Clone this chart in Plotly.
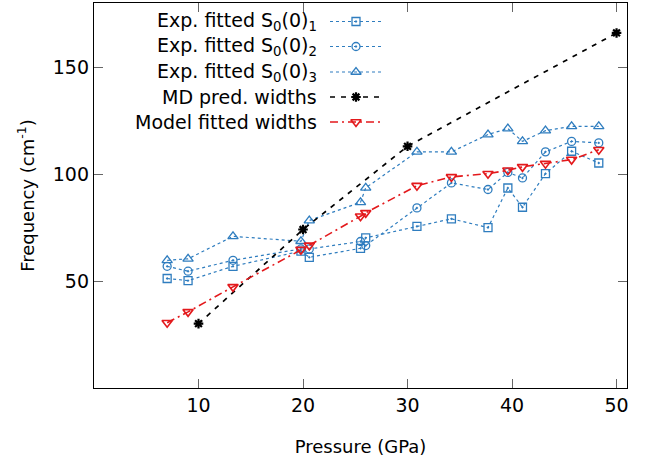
import plotly.graph_objects as go

# ---- data ----
p_exp = [7.0, 9.0, 13.3, 19.8, 20.6, 25.5, 26.0, 30.9, 34.2, 37.7, 39.6, 41.0, 43.2, 45.7, 48.3]
s1 = [51.2, 50.2, 56.9, 64.0, 61.1, 65.3, 70.2, 75.6, 79.1, 75.0, 93.5, 84.5, 100.2, 110.7, 105.2]
s2 = [56.9, 54.6, 59.7, 65.0, 65.0, 68.5, 66.6, 84.2, 95.9, 92.8, 100.8, 98.2, 110.4, 115.3, 114.6]
s3 = [59.7, 60.4, 70.9, 68.6, 78.3, 86.8, 93.6, 110.4, 110.4, 118.5, 121.3, 115.3, 120.3, 122.3, 122.3]
model = [30.5, 35.6, 47.3, 64.7, 66.7, 80.3, 81.9, 94.6, 98.7, 100.2, 101.8, 103.4, 104.9, 106.8, 111.4]
p_md = [10, 20, 30, 50]
md = [30.1, 74.1, 113.0, 166.0]

labels = ["Exp. fitted S<sub>0</sub>(0)<sub>1</sub>",
          "Exp. fitted S<sub>0</sub>(0)<sub>2</sub>",
          "Exp. fitted S<sub>0</sub>(0)<sub>3</sub>",
          "MD pred. widths",
          "Model fitted widths"]

x_ticks = [10, 20, 30, 40, 50]
y_ticks = [50, 100, 150]

BLUE = "#2f7dbf"
RED = "#e3191c"
FONT = "DejaVu Sans"
FS = 19
FS_TITLE = 18

styles = [
    dict(line=dict(color=BLUE, width=1.2, dash="3px,3px"),
         marker=dict(symbol="square-open-dot", size=8, color=BLUE, line=dict(width=1.3, color=BLUE))),
    dict(line=dict(color=BLUE, width=1.2, dash="3px,3px"),
         marker=dict(symbol="circle-open-dot", size=8, color=BLUE, line=dict(width=1.3, color=BLUE))),
    dict(line=dict(color=BLUE, width=1.2, dash="3px,3px"),
         marker=dict(symbol="triangle-up-open", size=9, color=BLUE, line=dict(width=1.3, color=BLUE))),
    dict(line=dict(color="black", width=1.7, dash="5px,6px"),
         marker=dict(symbol="asterisk-open", size=8, color="black", line=dict(width=2.2, color="black"))),
    dict(line=dict(color=RED, width=1.6, dash="8px,4px,2px,4px"),
         marker=dict(symbol="triangle-down-open", size=9, color=RED, line=dict(width=1.6, color=RED))),
]

series = [(p_exp, s1), (p_exp, s2), (p_exp, s3), (p_md, md), (p_exp, model)]

fig = go.Figure()
for (xs, ys), st in zip(series, styles):
    fig.add_trace(go.Scatter(x=xs, y=ys, mode="lines+markers", showlegend=False,
                             line=st["line"], marker=st["marker"], cliponaxis=False))

# ---- custom gnuplot-style legend on an overlay axis in pixel coordinates ----
L, R, T, B = 94, 627, 3, 388
row_y = [21.5, 46.5, 72, 97, 122]
for ly, st, lab in zip(row_y, styles, labels):
    fig.add_trace(go.Scatter(x=[330, 383], y=[ly, ly], mode="lines", xaxis="x2", yaxis="y2",
                             line=st["line"], showlegend=False, hoverinfo="skip"))
    fig.add_trace(go.Scatter(x=[356], y=[ly], mode="markers", xaxis="x2", yaxis="y2",
                             marker=st["marker"], showlegend=False, hoverinfo="skip"))
    fig.add_annotation(x=319, y=ly, xref="x2", yref="y2", text=lab, showarrow=False,
                       xanchor="right", yanchor="middle", font=dict(family=FONT, size=FS, color="black"))

axis_common = dict(showgrid=False, zeroline=False, showline=True, linecolor="black", linewidth=1.3,
                   mirror="allticks", ticks="inside", ticklen=9, tickwidth=1, tickcolor="#666",
                   automargin=False, tickfont=dict(family=FONT, size=FS, color="black"))

fig.update_layout(
    width=651, height=466,
    margin=dict(l=L, r=651 - R, t=T, b=466 - B, autoexpand=False),
    paper_bgcolor="white", plot_bgcolor="white",
    xaxis=dict(range=[0, 51], tickvals=x_ticks, ticktext=[str(v) for v in x_ticks],
               title=dict(text="Pressure (GPa)", font=dict(family=FONT, size=FS_TITLE, color="black"), standoff=25),
               **axis_common),
    yaxis=dict(range=[0, 180], tickvals=y_ticks, ticktext=[str(v) for v in y_ticks],
               title=dict(text="Frequency (cm<sup>-1</sup>)", font=dict(family=FONT, size=FS_TITLE, color="black"), standoff=13),
               **axis_common),
    xaxis2=dict(overlaying="x", range=[L, R], visible=False, fixedrange=True, automargin=False),
    yaxis2=dict(overlaying="y", range=[B, T], visible=False, fixedrange=True, automargin=False),
    showlegend=False,
)

fig.write_html("out.html", config={"displayModeBar": False},
               post_script="document.body.style.margin='0';document.body.style.padding='0';")
